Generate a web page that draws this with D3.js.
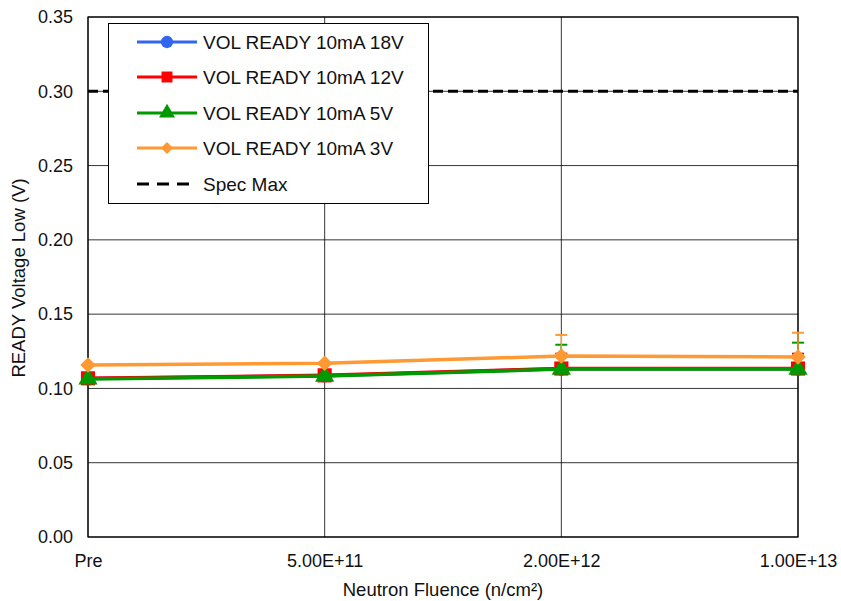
<!DOCTYPE html>
<html><head><meta charset="utf-8">
<script src="https://cdn.jsdelivr.net/npm/d3@7"></script>
<style>body{margin:0;background:#fff;}svg{display:block;font-family:"Liberation Sans",Arial,sans-serif;}</style>
</head><body>
<svg id="c" width="841" height="601"></svg>
<script>
const categories = ["Pre", "5.00E+11", "2.00E+12", "1.00E+13"];
const yTicks = [0, 0.05, 0.10, 0.15, 0.20, 0.25, 0.30, 0.35];
const v18 = [0.1066, 0.1086, 0.1132, 0.1132];
const v12 = [0.1068, 0.1088, 0.1134, 0.1134];
const v5  = [0.1063, 0.1083, 0.1130, 0.1130];
const v3  = [0.1158, 0.1170, 0.1218, 0.1212];
const err18 = [0, 0, 0.008, 0.008];
const err12 = [0, 0, 0.010, 0.010];
const err5  = [0, 0, 0.0164, 0.0178];
const err3  = [0, 0, 0.0142, 0.0163];
const specMax = 0.30;
const seriesNames = ["VOL READY 10mA 18V", "VOL READY 10mA 12V", "VOL READY 10mA 5V", "VOL READY 10mA 3V"];

const svg = d3.select("#c");
const m = {l: 88, r: 798, t: 17, b: 537};
const x = d3.scalePoint().domain(categories).range([m.l, m.r]).padding(0);
const y = d3.scaleLinear().domain([0, 0.35]).range([m.b, m.t]);

// grid
svg.append("g").selectAll("line").data(yTicks).join("line")
  .attr("x1", m.l).attr("x2", m.r).attr("y1", d => y(d)).attr("y2", d => y(d))
  .attr("stroke", "#000").attr("stroke-width", 0.8);
svg.append("g").selectAll("line").data(categories).join("line")
  .attr("x1", d => x(d)).attr("x2", d => x(d)).attr("y1", m.t).attr("y2", m.b)
  .attr("stroke", "#000").attr("stroke-width", 0.8);
svg.append("rect").attr("x", m.l).attr("y", m.t).attr("width", m.r - m.l).attr("height", m.b - m.t)
  .attr("fill", "none").attr("stroke", "#000").attr("stroke-width", 1.2);

// axes
const yAxis = d3.axisLeft(y).tickValues(yTicks).tickFormat(d3.format(".2f")).tickSize(0).tickPadding(15);
const ga = svg.append("g").attr("transform", `translate(${m.l},0)`).call(yAxis);
ga.select(".domain").remove();
ga.selectAll("text").attr("font-size", 18).attr("fill", "#111").attr("font-family", "Liberation Sans, Arial, sans-serif");
const xAxis = d3.axisBottom(x).tickSize(0).tickPadding(17);
const gx = svg.append("g").attr("transform", `translate(0,${m.b})`).call(xAxis);
gx.select(".domain").remove();
gx.selectAll("text").attr("font-size", 18).attr("fill", "#111").attr("font-family", "Liberation Sans, Arial, sans-serif");

svg.append("text").attr("x", 443).attr("y", 596).attr("text-anchor", "middle")
  .attr("font-size", 18.5).attr("fill", "#111").text("Neutron Fluence (n/cm²)");
svg.append("text").attr("transform", "translate(25,278) rotate(-90)").attr("text-anchor", "middle")
  .attr("font-size", 18.5).attr("fill", "#111").text("READY Voltage Low (V)");

// spec max
svg.append("line").attr("x1", m.l).attr("x2", m.r).attr("y1", y(specMax)).attr("y2", y(specMax))
  .attr("stroke", "#000").attr("stroke-width", 3).attr("stroke-dasharray", "10,5");

const series = [
  {name: seriesNames[0], vals: v18, err: err18, color: "#3366ee", sym: d3.symbolCircle, size: 150, lsize: 120, rot: 0},
  {name: seriesNames[1], vals: v12, err: err12, color: "#ff0000", sym: d3.symbolSquare, size: 200, lsize: 120, rot: 0},
  {name: seriesNames[2], vals: v5, err: err5, color: "#009900", sym: d3.symbolTriangle, size: 160, lsize: 110, rot: 0},
  {name: seriesNames[3], vals: v3, err: err3, color: "#ff9933", sym: d3.symbolSquare, size: 120, lsize: 75, rot: 45}
];
const line = d3.line().x((d, i) => x(categories[i])).y(d => y(d));

series.forEach(s => {
  const g = svg.append("g");
  s.vals.forEach((v, i) => {
    if (s.err[i] > 0) {
      const cx = x(categories[i]);
      g.append("line").attr("x1", cx).attr("x2", cx).attr("y1", y(v)).attr("y2", y(v + s.err[i]))
        .attr("stroke", s.color).attr("stroke-width", 1.5);
      g.append("line").attr("x1", cx - 6).attr("x2", cx + 6).attr("y1", y(v + s.err[i])).attr("y2", y(v + s.err[i]))
        .attr("stroke", s.color).attr("stroke-width", 2);
    }
  });
  g.append("path").datum(s.vals).attr("d", line).attr("fill", "none")
    .attr("stroke", s.color).attr("stroke-width", 3.5);
  g.selectAll("path.m").data(s.vals).join("path").attr("class", "m")
    .attr("transform", (d, i) => `translate(${x(categories[i])},${y(d)}) rotate(${s.rot})`)
    .attr("d", d3.symbol().type(s.sym).size(s.size))
    .attr("fill", s.color);
});

// legend
const lg = svg.append("g");
lg.append("rect").attr("x", 108.5).attr("y", 23.5).attr("width", 320).attr("height", 180)
  .attr("fill", "#fff").attr("stroke", "#000").attr("stroke-width", 1);
const ly = [42, 77, 113, 148, 184];
series.forEach((s, i) => {
  lg.append("line").attr("x1", 137).attr("x2", 197).attr("y1", ly[i]).attr("y2", ly[i])
    .attr("stroke", s.color).attr("stroke-width", 3);
  lg.append("path").attr("transform", `translate(167,${ly[i]}) rotate(${s.rot})`)
    .attr("d", d3.symbol().type(s.sym).size(s.lsize)).attr("fill", s.color);
  lg.append("text").attr("x", 203).attr("y", ly[i] + 7).attr("font-size", 19).attr("fill", "#111").text(s.name);
});
lg.append("line").attr("x1", 137).attr("x2", 197).attr("y1", ly[4]).attr("y2", ly[4])
  .attr("stroke", "#000").attr("stroke-width", 3).attr("stroke-dasharray", "12,8");
lg.append("text").attr("x", 203).attr("y", ly[4] + 7).attr("font-size", 19).attr("fill", "#111").text("Spec Max");
</script>
</body></html>
